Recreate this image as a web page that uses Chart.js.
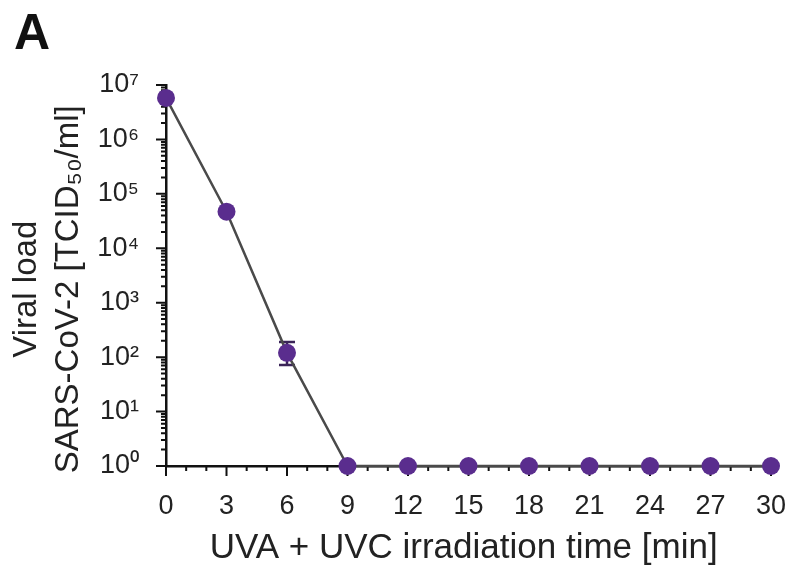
<!DOCTYPE html>
<html>
<head>
<meta charset="utf-8">
<script src="https://cdn.jsdelivr.net/npm/chart.js@4.4.1/dist/chart.umd.min.js"></script>
<style>
  body { margin: 0; background: #fff; }
  #wrap { position: relative; width: 794px; height: 571px; }
  #panel { position: absolute; left: 14px; top: 3px; line-height: 1; font: bold 50px "Liberation Sans", Arial, sans-serif; color: #111; }
</style>
</head>
<body>
<div id="wrap">
  <canvas id="myChart" width="794" height="571"></canvas>
  <div id="panel">A</div>
</div>
<script>
// irradiation time (min) and viral load (TCID50/ml)
const times = [0, 3, 6, 9, 12, 15, 18, 21, 24, 27, 30]
const viralLoad = [5.8e6, 4.7e4, 120, 1, 1, 1, 1, 1, 1, 1, 1]
const errLow = [null, null, 72, null, null, null, null, null, null, null, null]
const errHigh = [null, null, 190, null, null, null, null, null, null, null, null]

const xTicks = [0, 3, 6, 9, 12, 15, 18, 21, 24, 27, 30]
const yTicks = [1, 10, 100, 1e3, 1e4, 1e5, 1e6, 1e7]
const supers = ['\u2070', '\u00B9', '\u00B2', '\u00B3', '\u2074', '\u2075', '\u2076', '\u2077']

const font = '"Liberation Sans", Arial, sans-serif'
const purple = '#5a2d8e'

// hand drawn tick marks (major + minor), GraphPad style
const tickMarks = {
  id: 'tickMarks',
  beforeDatasetsDraw(chart) {
    const { ctx, scales: { x, y }, chartArea } = chart
    ctx.save()
    ctx.strokeStyle = '#111'
    ctx.lineWidth = 2
    ctx.beginPath()
    for (let d = 0; d < yTicks.length; d++) {
      const base = yTicks[d]
      let py = y.getPixelForValue(base)
      ctx.moveTo(chartArea.left - 10, py)
      ctx.lineTo(chartArea.left, py)
      if (d == yTicks.length - 1) break
      for (let m = 2; m < 10; m++) {
        py = y.getPixelForValue(base * m)
        ctx.moveTo(chartArea.left - 5, py)
        ctx.lineTo(chartArea.left, py)
      }
    }
    for (let v = 0; v <= 30; v++) {
      const px = x.getPixelForValue(v)
      const len = v % 3 == 0 ? 10 : 5
      ctx.moveTo(px, chartArea.bottom)
      ctx.lineTo(px, chartArea.bottom + len)
    }
    ctx.stroke()
    ctx.restore()
  }
}

const errorBars = {
  id: 'errorBars',
  beforeDatasetsDraw(chart) {
    const { ctx, scales: { x, y } } = chart
    ctx.save()
    ctx.strokeStyle = '#3a2458'
    ctx.lineWidth = 2.5
    times.forEach((t, i) => {
      if (errLow[i] == null) return
      const px = x.getPixelForValue(t)
      const lo = y.getPixelForValue(errLow[i])
      const hi = y.getPixelForValue(errHigh[i])
      ctx.beginPath()
      ctx.moveTo(px, lo); ctx.lineTo(px, hi)
      ctx.moveTo(px - 8, lo); ctx.lineTo(px + 8, lo)
      ctx.moveTo(px - 8, hi); ctx.lineTo(px + 8, hi)
      ctx.stroke()
    })
    ctx.restore()
  }
}

const ctx = document.getElementById('myChart')
new Chart(ctx, {
  type: 'line',
  data: {
    datasets: [{
      data: times.map((t, i) => ({ x: t, y: viralLoad[i] })),
      borderColor: '#4a4a4a',
      borderWidth: 2.5,
      pointRadius: 9,
      pointBackgroundColor: purple,
      pointBorderColor: purple,
      pointBorderWidth: 0,
      tension: 0,
      clip: false
    }]
  },
  options: {
    responsive: false,
    animation: false,
    layout: { padding: { top: 85, right: 23, left: 0, bottom: 0 } },
    plugins: {
      legend: { display: false },
      tooltip: { enabled: false }
    },
    scales: {
      x: {
        type: 'linear',
        min: 0,
        max: 30,
        afterBuildTicks: s => { s.ticks = xTicks.map(v => ({ value: v })) },
        afterFit: s => { s.height = 105; s.paddingRight = 0; s.paddingLeft = 0 },
        grid: { display: false },
        border: { display: true, color: '#111', width: 2.5 },
        ticks: { color: '#222', padding: 16, font: { family: font, size: 27 } },
        title: {
          display: true,
          text: 'UVA + UVC irradiation time [min] ',
          color: '#222',
          font: { family: font, size: 35, lineHeight: 1.2 },
          padding: { top: 0, bottom: 2 }
        }
      },
      y: {
        type: 'logarithmic',
        min: 1,
        max: 1e7,
        afterBuildTicks: s => { s.ticks = yTicks.map(v => ({ value: v })) },
        afterFit: s => { s.width = 166 },
        grid: { display: false },
        border: { display: true, color: '#111', width: 2.5 },
        ticks: {
          color: '#222',
          padding: 19,
          font: { family: font, size: 27 },
          callback: v => '10' + supers[Math.round(Math.log10(v))]
        },
        title: {
          display: true,
          // trailing spaces nudge the rotated title a little lower, as in the original
          text: ['Viral load   ', 'SARS-CoV-2 [TCID\u2085\u2080/ml]   '],
          color: '#222',
          font: { family: font, size: 33, lineHeight: 1.27 },
          padding: { top: 6, bottom: 0 }
        }
      }
    }
  },
  plugins: [tickMarks, errorBars]
})
</script>
</body>
</html>
